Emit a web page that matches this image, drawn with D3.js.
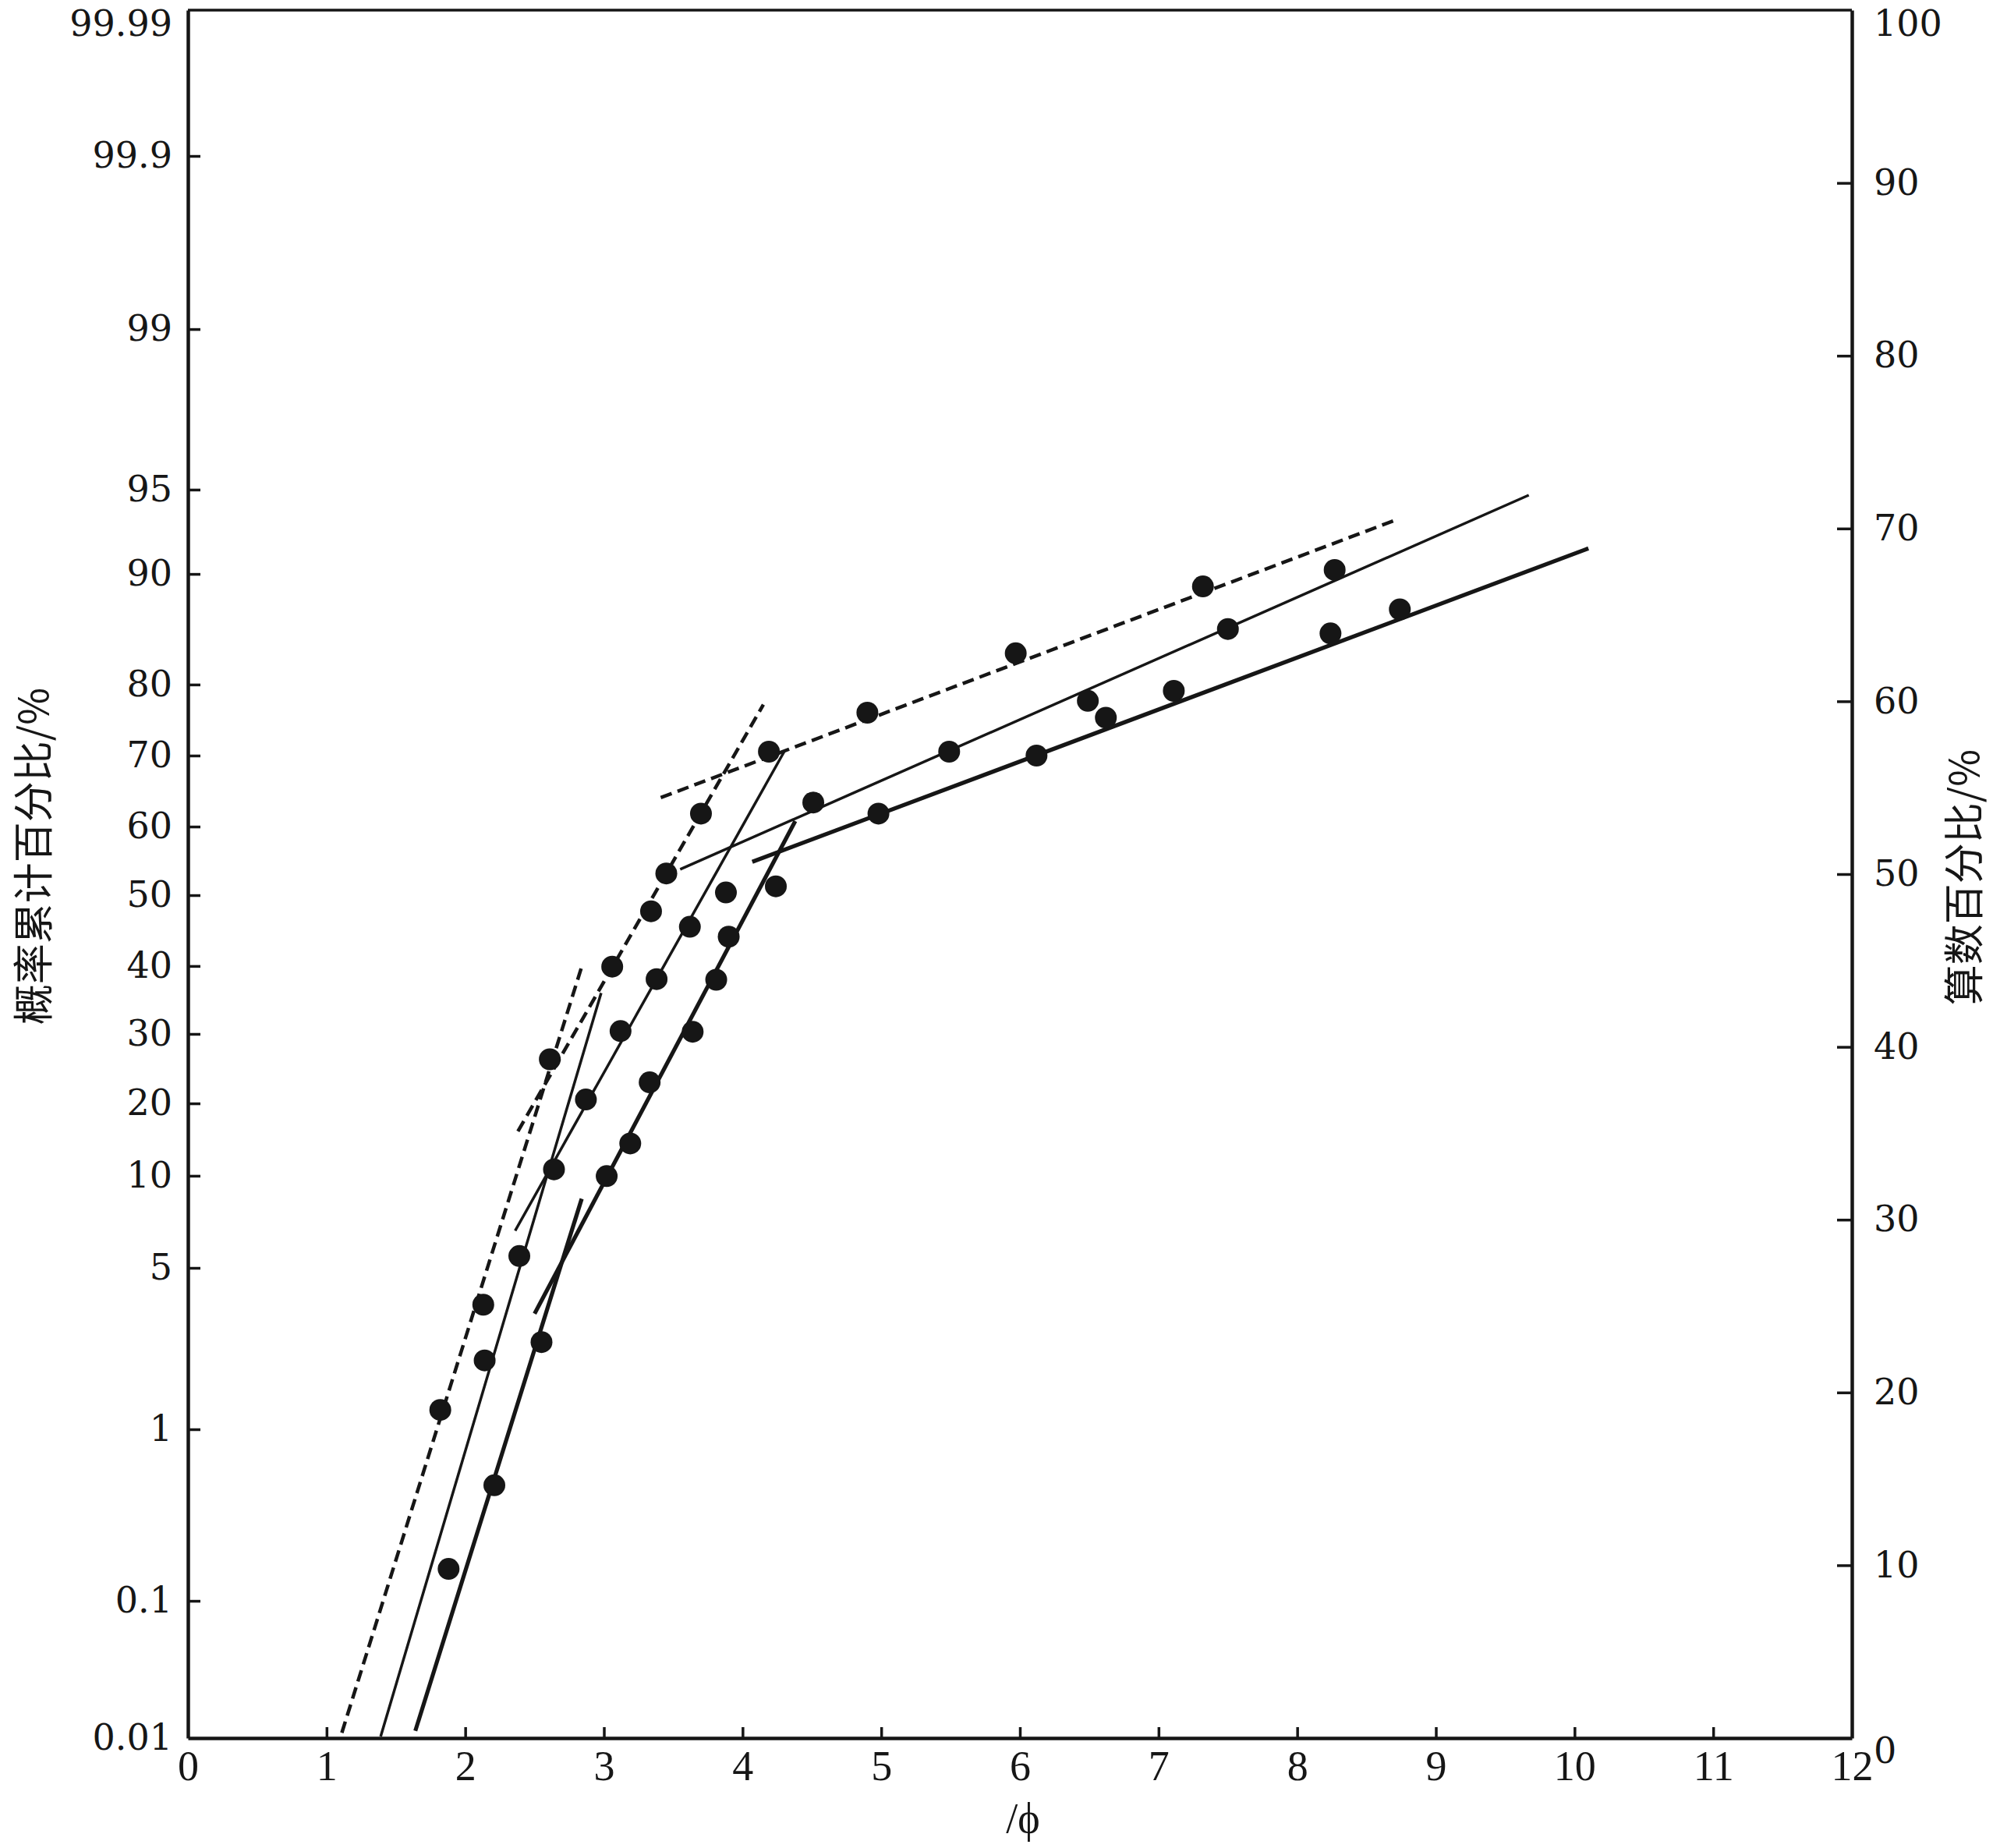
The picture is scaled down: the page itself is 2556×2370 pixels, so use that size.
<!DOCTYPE html>
<html><head><meta charset="utf-8">
<script src="https://cdn.jsdelivr.net/npm/d3@7"></script>
<style>body{margin:0;background:#fff}</style>
</head><body>
<svg id="chart" width="2556" height="2370"></svg>
<script>
// ---------------- data ----------------
const probTicks = [0.01, 0.1, 1, 5, 10, 20, 30, 40, 50, 60, 70, 80, 90, 95, 99, 99.9, 99.99];
const probTickLabels = ["0.01","0.1","1","5","10","20","30","40","50","60","70","80","90","95","99","99.9","99.99"];
const phiTicks = [0,1,2,3,4,5,6,7,8,9,10,11,12];
const arithTicks = [0,10,20,30,40,50,60,70,80,90,100];

// sample A (dashed fit lines)
const sampleAPhi  = [1.82, 2.13, 2.61, 3.06, 3.34, 3.45, 3.70, 4.19, 4.90, 5.97, 7.32];
const sampleAProb = [1.24, 3.59, 26.1, 39.9, 47.7, 53.2, 61.9, 70.6, 76.3, 83.3, 89.1];
// sample B (thin solid fit lines)
const sampleBPhi  = [1.88, 2.14, 2.39, 2.64, 2.87, 3.12, 3.38, 3.62, 3.88, 4.51, 5.49, 6.49, 7.50, 8.27];
const sampleBProb = [0.16, 2.09, 5.5, 10.7, 20.5, 30.4, 38.0, 45.5, 50.4, 63.5, 70.6, 77.9, 85.6, 90.3];
// sample C (thick solid fit lines)
const sampleCPhi  = [2.21, 2.55, 3.02, 3.19, 3.33, 3.64, 3.81, 3.90, 4.24, 4.98, 6.12, 6.62, 7.11, 8.24, 8.74];
const sampleCProb = [0.50, 2.51, 9.98, 13.9, 22.8, 30.3, 37.9, 44.1, 51.3, 61.9, 70.0, 75.6, 79.2, 85.2, 87.3];

// fitted population segments: [start, end]
const segAPhi  = [[1.11, 2.84], [2.38, 4.15], [3.41, 8.71]];
const segAProb = [[0.011, 39.9], [15.6, 77.4], [64.2, 93.5]];
const segBPhi  = [[1.39, 2.98], [2.36, 4.30], [3.55, 9.67]];
const segBProb = [[0.0103, 35.9], [6.7, 70.6], [53.8, 94.75]];
const segCPhi  = [[1.64, 2.84], [2.50, 4.38], [4.07, 10.10]];
const segCProb = [[0.0114, 8.5], [3.3, 60.8], [54.9, 91.8]];

const xTitle = "/ϕ";
const yLeftTitle = "概率累计百分比/%";
const yRightTitle = "算数百分比/%";

// ---------------- layout ----------------
const W = 2556, H = 2370;
const M = {left: 241, right: 181, top: 13, bottom: 141};
const plotW = W - M.left - M.right, plotH = H - M.top - M.bottom;
// row positions of the printed probability-paper rulings (fraction of plot height from top)
const probPaperRows = [1, 0.9206, 0.8213, 0.7279, 0.6746, 0.6327, 0.5925, 0.5532, 0.5122,
                       0.4725, 0.4314, 0.3903, 0.3263, 0.2775, 0.1846, 0.0844, 0];
const ink = "#161616";

function probit(p){
  const a=[-3.969683028665376e+01,2.209460984245205e+02,-2.759285104469687e+02,1.383577518672690e+02,-3.066479806614716e+01,2.506628277459239e+00];
  const b=[-5.447609879822406e+01,1.615858368580409e+02,-1.556989798598866e+02,6.680131188771972e+01,-1.328068155288572e+01];
  const c=[-7.784894002430293e-03,-3.223964580411365e-01,-2.400758277161838e+00,-2.549732539343734e+00,4.374664141464968e+00,2.938163982698783e+00];
  const d=[7.784695709041462e-03,3.224671290700398e-01,2.445134137142996e+00,3.754408661907416e+00];
  const pl=0.02425, ph=1-pl; let q,r;
  if(p<pl){q=Math.sqrt(-2*Math.log(p));return (((((c[0]*q+c[1])*q+c[2])*q+c[3])*q+c[4])*q+c[5])/((((d[0]*q+d[1])*q+d[2])*q+d[3])*q+1);}
  if(p<=ph){q=p-0.5;r=q*q;return (((((a[0]*r+a[1])*r+a[2])*r+a[3])*r+a[4])*r+a[5])*q/(((((b[0]*r+b[1])*r+b[2])*r+b[3])*r+b[4])*r+1);}
  q=Math.sqrt(-2*Math.log(1-p));return -(((((c[0]*q+c[1])*q+c[2])*q+c[3])*q+c[4])*q+c[5])/((((d[0]*q+d[1])*q+d[2])*q+d[3])*q+1);
}
const z = pct => probit(pct/100);

const svg = d3.select("#chart");
svg.append("rect").attr("width",W).attr("height",H).attr("fill","#fff");

const x = d3.scaleLinear().domain([0,12]).range([M.left, M.left+plotW]);
const yZ = d3.scaleLinear().domain(probTicks.map(z)).range(probPaperRows.map(f => M.top + f*plotH));
const y = pct => yZ(z(pct));
const yR = d3.scaleLinear().domain([0,100]).range([M.top+plotH, M.top]);

// top frame line
svg.append("line").attr("x1", x(0)).attr("x2", x(12)).attr("y1", M.top).attr("y2", M.top)
   .attr("stroke", ink).attr("stroke-width", 3.5);

// left axis (probability)
const gL = svg.append("g").attr("transform", `translate(${M.left},0)`)
  .call(d3.axisLeft(yZ).tickValues(probTicks.map(z)).tickFormat((d,i)=>probTickLabels[i])
        .tickSizeInner(-16).tickSizeOuter(0).tickPadding(20));
// right axis (arithmetic)
const gR = svg.append("g").attr("transform", `translate(${M.left+plotW},0)`)
  .call(d3.axisRight(yR).tickValues(arithTicks).tickSizeInner(-19).tickSizeOuter(0).tickPadding(28));
// bottom axis
const gB = svg.append("g").attr("transform", `translate(0,${M.top+plotH})`)
  .call(d3.axisBottom(x).tickValues(phiTicks).tickSizeInner(-14).tickSizeOuter(0).tickPadding(16));

[gL, gR, gB].forEach(g => {
  g.select(".domain").attr("stroke", ink).attr("stroke-width", 4.5);
  g.selectAll(".tick line").attr("stroke", ink).attr("stroke-width", 3.5);
  g.selectAll(".tick text").attr("fill", ink);
});
gL.selectAll(".tick text").attr("font-family","'DejaVu Serif', serif").attr("font-size", 46);
gR.selectAll(".tick text").attr("font-family","'DejaVu Serif', serif").attr("font-size", 46);
gB.selectAll(".tick text").attr("font-family","'Liberation Serif', 'Times New Roman', serif").attr("font-size", 54);
// end labels sit slightly inside the frame corners in the original
gL.selectAll(".tick").filter((d,i)=>i===probTicks.length-1).select("text").attr("y", 18);
gL.selectAll(".tick").filter((d,i)=>i===probTicks.length-1).select("line").remove();
gR.selectAll(".tick").filter(d=>d===100).select("text").attr("y", 18);
gR.selectAll(".tick").filter(d=>d===0).select("text").attr("y", 17);
gR.selectAll(".tick").filter(d=>d===0 || d===100).select("line").remove();
gB.selectAll(".tick").filter(d=>d===0 || d===12).select("line").remove();
gL.selectAll(".tick").filter((d,i)=>i===0).select("line").remove();

// axis titles
svg.append("text").attr("x", 1312).attr("y", 2350)
  .attr("text-anchor","middle").attr("font-family","'Liberation Serif', serif").attr("font-size", 54)
  .attr("fill", ink).text(xTitle);
svg.append("text").attr("transform", `translate(62,1098) rotate(-90)`)
  .attr("text-anchor","middle")
  .attr("font-family","'Noto Sans CJK SC', sans-serif").attr("font-size", 52)
  .attr("fill", ink).text(yLeftTitle);
svg.append("text").attr("transform", `translate(2538,1125) rotate(-90)`)
  .attr("text-anchor","middle")
  .attr("font-family","'Noto Sans CJK SC', sans-serif").attr("font-size", 52)
  .attr("fill", ink).text(yRightTitle);

// ---------------- marks ----------------
const samples = [
  {phi: sampleAPhi, prob: sampleAProb, segPhi: segAPhi, segProb: segAProb, width: 4.5, dash: "15,8"},
  {phi: sampleBPhi, prob: sampleBProb, segPhi: segBPhi, segProb: segBProb, width: 3.5, dash: null},
  {phi: sampleCPhi, prob: sampleCProb, segPhi: segCPhi, segProb: segCProb, width: 5.2, dash: null}
];
const line = d3.line().x(d => x(d[0])).y(d => y(d[1]));
const gM = svg.append("g");
samples.forEach(s => {
  s.segPhi.forEach((sp, i) => {
    const pts = [[sp[0], s.segProb[i][0]], [sp[1], s.segProb[i][1]]];
    gM.append("path").attr("d", line(pts)).attr("fill","none").attr("stroke", ink)
      .attr("stroke-width", s.width).attr("stroke-dasharray", s.dash);
  });
});
samples.forEach(s => {
  gM.selectAll(null).data(s.phi.map((p,i)=>[p, s.prob[i]])).enter().append("circle")
    .attr("cx", d => x(d[0])).attr("cy", d => y(d[1])).attr("r", 14).attr("fill", ink);
});
</script>
</body></html>
